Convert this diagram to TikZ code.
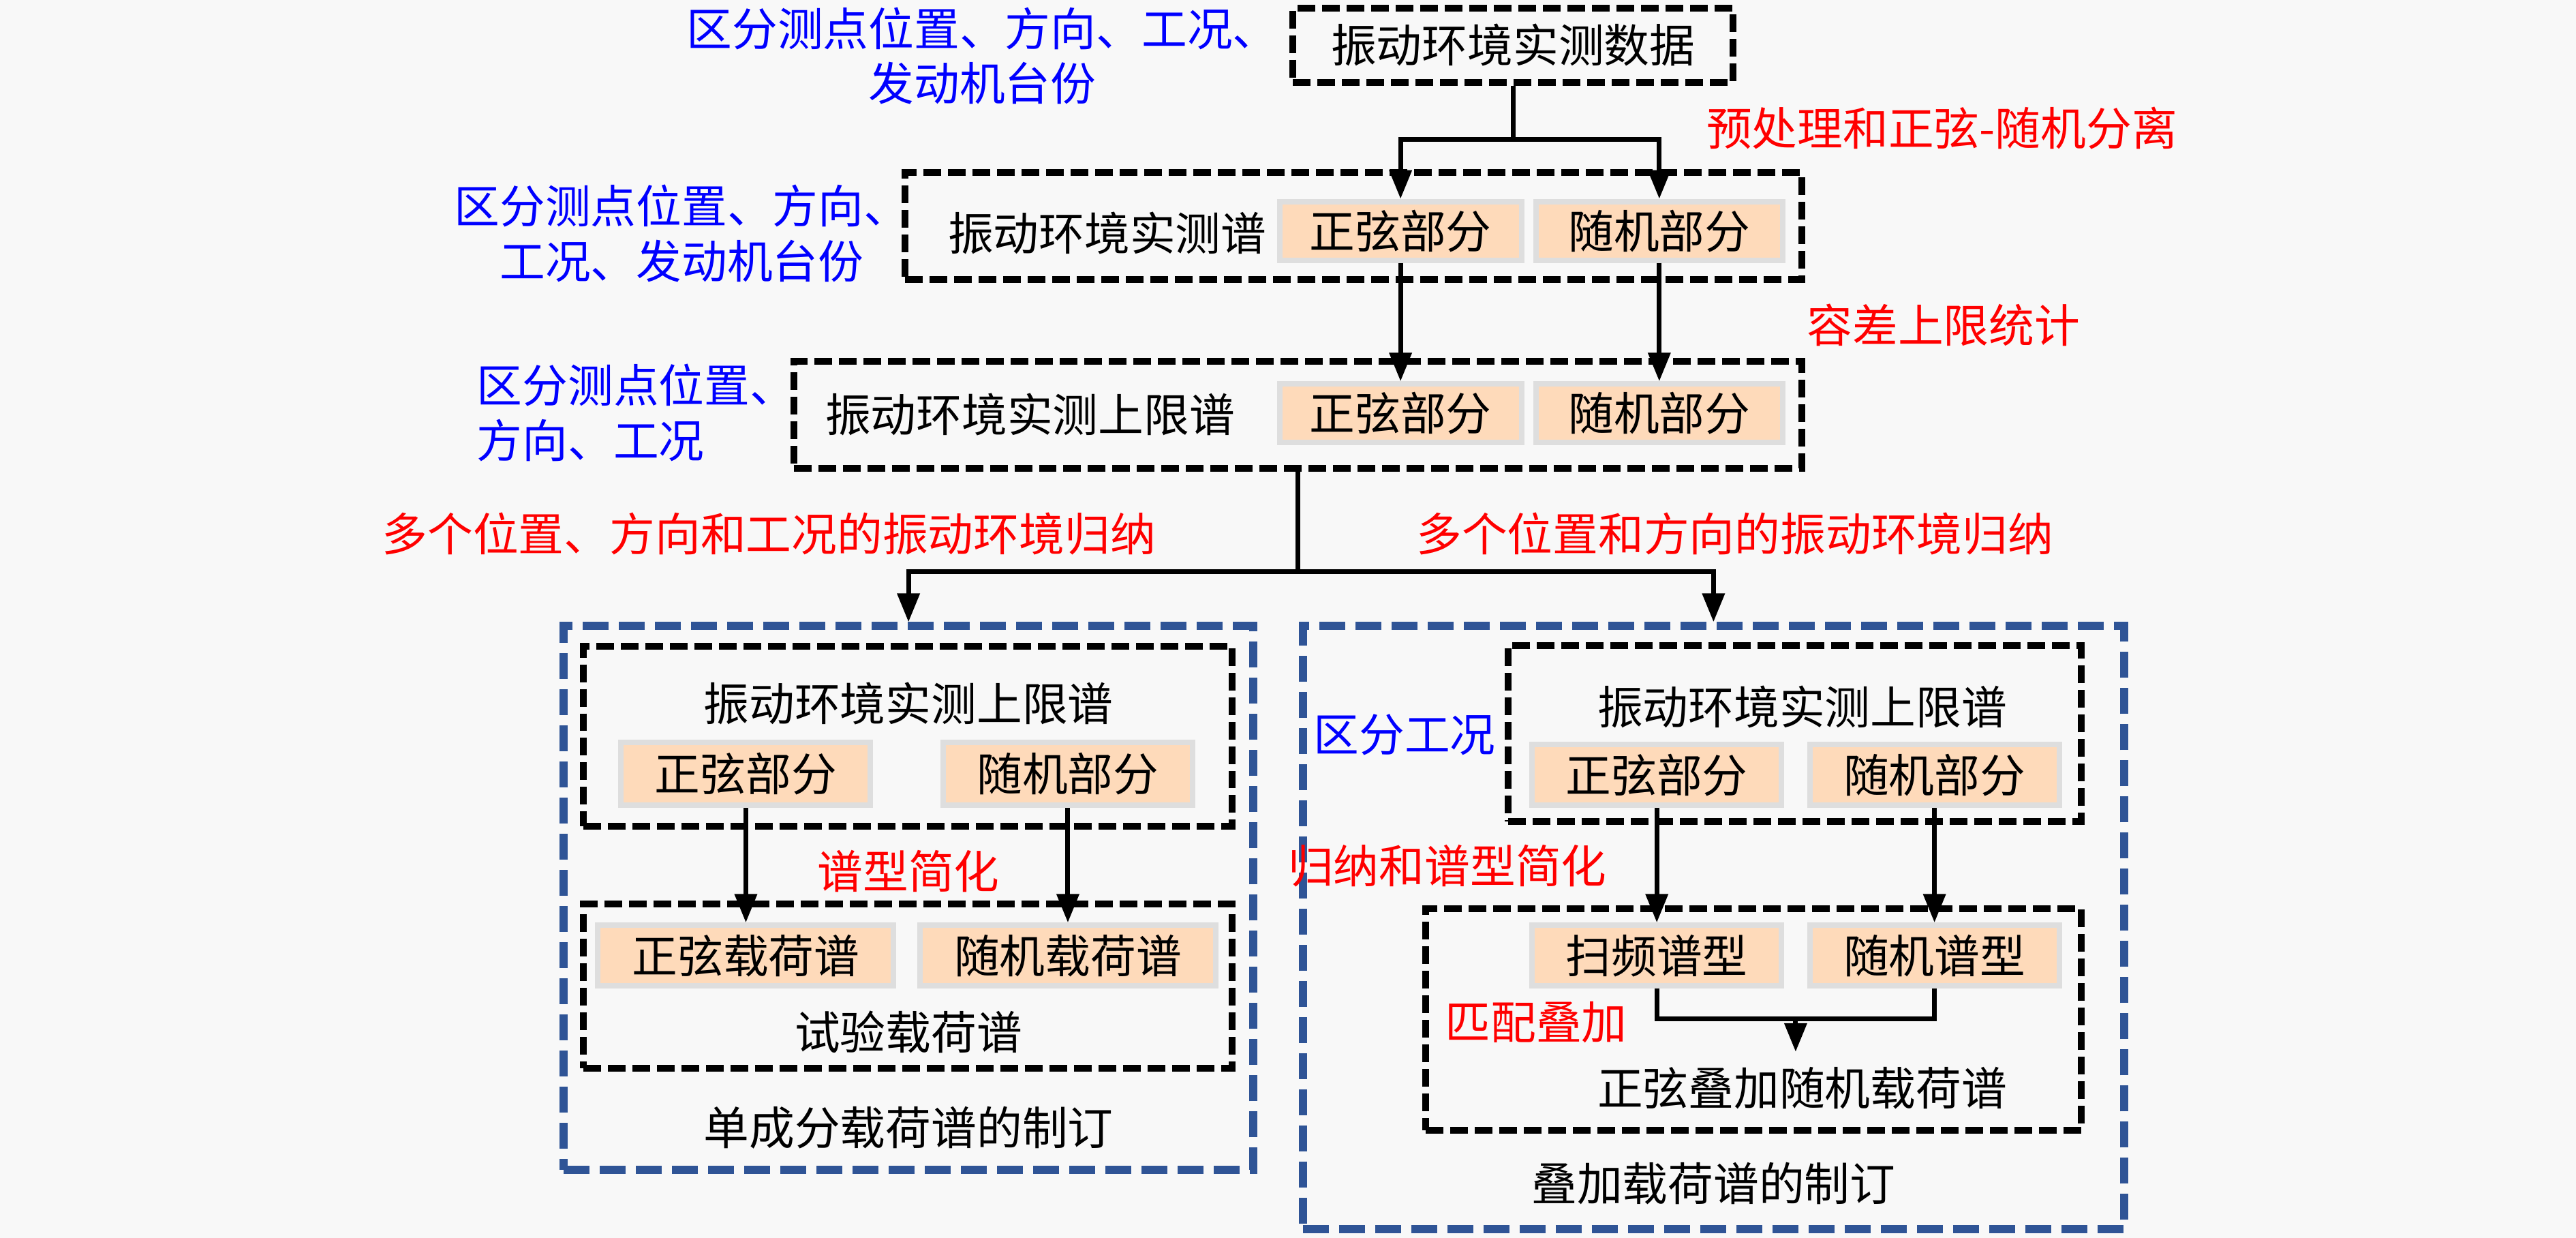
\documentclass[tikz,border=0pt]{standalone}
\usepackage{fontspec}
\setmainfont{Noto Sans CJK SC}
\usetikzlibrary{arrows.meta}
\definecolor{peach}{RGB}{254,218,186}
\definecolor{shade}{RGB}{222,222,222}
\definecolor{frameblue}{RGB}{47,84,150}
\definecolor{paper}{RGB}{248,248,248}
\begin{document}
\begin{tikzpicture}[x=0.024107cm, y=-0.024107cm,
  every node/.style={font=\fontsize{19pt}{23pt}\selectfont, inner sep=0pt},
  dashbox/.style={draw, line width=0.1cm, dash pattern=on 0.26cm off 0.1cm},
  bluebox/.style={draw=frameblue, line width=0.12cm, dash pattern=on 0.38cm off 0.15cm},
  part/.style={fill=peach, draw=shade, line width=0.08cm, minimum height=0.86cm},
  note/.style={blue, align=center},
  redlabel/.style={red},
  conn/.style={line width=0.07cm},
  arr/.style={conn, -{Triangle[width=0.32cm,length=0.42cm]}}]
\fill[paper] (0,0) rectangle (1568,753.3);
% raw data and first split
\node[dashbox, minimum width=6.46cm, minimum height=1.085cm] (data) at (921,27.5) {振动环境实测数据};
\node[note] (note1) at (598,34) {区分测点位置、方向、工况、\\发动机台份};
\node[redlabel] (pre) at (1182,78) {预处理和正弦-随机分离};
\node[dashbox, minimum width=13.16cm, minimum height=1.567cm] (spec) at (824,137.5) {};
\node (spectxt) at (674,142) {振动环境实测谱};
\node[part, minimum width=3.55cm] (sin1) at (852.5,140.5) {正弦部分};
\node[part, minimum width=3.62cm] (rnd1) at (1010,140.5) {随机部分};
\node[note] (note2) at (415,142) {区分测点位置、方向、\\工况、发动机台份};
\coordinate (split1) at (921,85);
\draw[conn] (data.south) -- (split1);
\draw[arr] (split1) -| (sin1.north);
\draw[arr] (split1) -| (rnd1.north);
% upper limit spectrum
\node[redlabel] (tol) at (1183,198) {容差上限统计};
\node[dashbox, minimum width=14.80cm, minimum height=1.567cm] (upper) at (790,252.5) {};
\node (uppertxt) at (627,252) {振动环境实测上限谱};
\node[part, minimum width=3.55cm] (sin2) at (852.5,251.5) {正弦部分};
\node[part, minimum width=3.62cm] (rnd2) at (1010,251.5) {随机部分};
\node[note, align=left, anchor=west] (note3) at (290,251) {区分测点位置、\\方向、工况};
\draw[arr] (sin1.south) -- (sin2.north);
\draw[arr] (rnd1.south) -- (rnd2.north);
% two branches
\node[redlabel] (indleft) at (468,325) {多个位置、方向和工况的振动环境归纳};
\node[redlabel] (indright) at (1056,325) {多个位置和方向的振动环境归纳};
\node[bluebox, minimum width=10.12cm, minimum height=7.98cm] (single) at (553,546.5) {};
\node[bluebox, minimum width=12.05cm, minimum height=8.85cm] (combo) at (1043,564.5) {};
\coordinate (split2) at (790,348);
\draw[conn] (upper.south) -- (split2);
\draw[arr] (split2) -| (single.north);
\draw[arr] (split2) -| (combo.north);
% single component load spectrum
\node[dashbox, minimum width=9.52cm, minimum height=2.65cm] (lupper) at (552.5,448) {};
\node (luppertxt) at (553,428) {振动环境实测上限谱};
\node[part, minimum width=3.66cm, minimum height=0.92cm] (lsin) at (454,471) {正弦部分};
\node[part, minimum width=3.66cm, minimum height=0.92cm] (lrnd) at (650,471) {随机部分};
\node[redlabel] (simp) at (553,530) {谱型简化};
\node[dashbox, minimum width=9.52cm, minimum height=2.41cm] (lload) at (552.5,600) {};
\node[part, minimum width=4.34cm, minimum height=0.89cm] (lsinload) at (454,581.5) {正弦载荷谱};
\node[part, minimum width=4.34cm, minimum height=0.89cm] (lrndload) at (650,581.5) {随机载荷谱};
\node (lloadtxt) at (553,628) {试验载荷谱};
\node (singletxt) at (553,686) {单成分载荷谱的制订};
\draw[arr] (lsin.south) -- (lsinload.north);
\draw[arr] (lrnd.south) -- (lrndload.north);
% combined load spectrum
\node[note] (cond) at (855,447) {区分工况};
\node[dashbox, minimum width=8.41cm, minimum height=2.58cm] (rupper) at (1092.5,446.5) {};
\node (ruppertxt) at (1097,430) {振动环境实测上限谱};
\node[part, minimum width=3.66cm, minimum height=0.89cm] (rsin) at (1008.5,471.5) {正弦部分};
\node[part, minimum width=3.66cm, minimum height=0.89cm] (rrnd) at (1177.5,471.5) {随机部分};
\node[redlabel] (induct) at (881,527) {归纳和谱型简化};
\node[dashbox, minimum width=9.62cm, minimum height=3.25cm] (rload) at (1067.5,620.5) {};
\node[part, minimum width=3.66cm, minimum height=0.89cm] (sweep) at (1008.5,581.5) {扫频谱型};
\node[part, minimum width=3.66cm, minimum height=0.89cm] (rndtype) at (1177.5,581.5) {随机谱型};
\node[redlabel] (match) at (935,622) {匹配叠加};
\node (rloadtxt) at (1097,662) {正弦叠加随机载荷谱};
\node (combotxt) at (1043,720) {叠加载荷谱的制订};
\draw[arr] (rsin.south) -- (sweep.north);
\draw[arr] (rrnd.south) -- (rndtype.north);
\coordinate (merge) at (1093,620);
\coordinate (mergeend) at (1093,640);
\draw[conn] (sweep.south) |- (merge) -| (rndtype.south);
\draw[arr] (merge) -- (mergeend);
\end{tikzpicture}
\end{document}
